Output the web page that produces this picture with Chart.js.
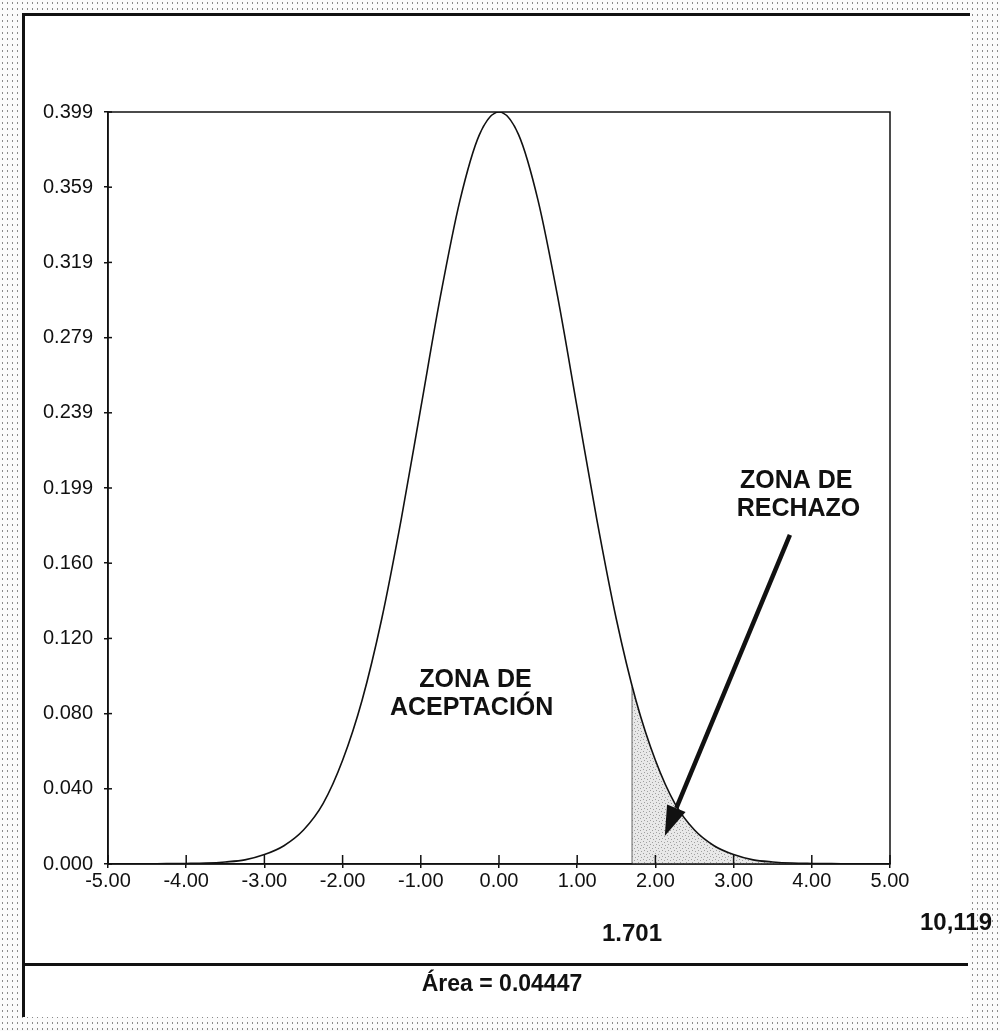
<!DOCTYPE html>
<html>
<head>
<meta charset="utf-8">
<title>Zona de rechazo</title>
<script src="https://cdn.jsdelivr.net/npm/chart.js@4.4.1/dist/chart.umd.min.js"></script>
<style>
  html, body { margin: 0; padding: 0; }
  body {
    width: 1000px; height: 1031px; overflow: hidden; position: relative;
    background-color: #fbfbfb;
    background-image: radial-gradient(circle, #8a8a8a 0.7px, transparent 1.1px);
    background-size: 5px 6px;
  }
  #panel {
    position: absolute; left: 22px; top: 13px; width: 948px; height: 1004px;
    background: #fff; border-left: 3px solid #111; border-top: 3px solid #111;
    box-sizing: border-box;
  }
  #sep {
    position: absolute; left: 22px; top: 963px; width: 946px; height: 3px; background: #111;
  }
  #chart { position: absolute; left: 0; top: 0; }
</style>
</head>
<body>
<div id="panel"></div>
<div id="sep"></div>
<canvas id="chart" width="1000" height="1031"></canvas>
<script>
// curve, every 0.25
const xValues = [-5, -4.75, -4.5, -4.25, -4, -3.75, -3.5, -3.25, -3, -2.75, -2.5, -2.25, -2, -1.75, -1.5, -1.25, -1, -0.75, -0.5, -0.25,
    0, 0.25, 0.5, 0.75, 1, 1.25, 1.5, 1.75, 2, 2.25, 2.5, 2.75, 3, 3.25, 3.5, 3.75, 4, 4.25, 4.5, 4.75, 5];
const densityValues = [0, 0, 0.0001, 0.0002, 0.0003, 0.0005, 0.0011, 0.0022, 0.005, 0.0097, 0.018, 0.032, 0.055, 0.087, 0.130, 0.183, 0.242, 0.301, 0.352, 0.387,
    0.399, 0.387, 0.352, 0.301, 0.242, 0.183, 0.130, 0.087, 0.055, 0.032, 0.018, 0.0097, 0.005, 0.0022, 0.0011, 0.0005, 0.0003, 0.0002, 0.0001, 0, 0];

// rejection tail from t = 1.701
const shadeX = [1.701, 1.75, 2, 2.25, 2.5, 2.75, 3, 3.25, 3.5, 3.75, 4, 4.25, 4.5, 4.75, 5];
const shadeY = [0.094, 0.087, 0.055, 0.032, 0.018, 0.0097, 0.005, 0.0022, 0.0011, 0.0005, 0.0003, 0.0002, 0.0001, 0, 0];
const criticalValue = 1.701;

const yTickValues = [0, 0.0399, 0.0798, 0.1197, 0.1596, 0.1995, 0.2394, 0.2793, 0.3192, 0.3591, 0.399];
const yTickLabels = ['0.000', '0.040', '0.080', '0.120', '0.160', '0.199', '0.239', '0.279', '0.319', '0.359', '0.399'];
const xTickValues = [-5, -4, -3, -2, -1, 0, 1, 2, 3, 4, 5];
const xTickLabels = ['-5.00', '-4.00', '-3.00', '-2.00', '-1.00', '0.00', '1.00', '2.00', '3.00', '4.00', '5.00'];

// dotted grey texture for the shaded area
const makeStipple = () => {
    const c = document.createElement('canvas');
    c.width = 6; c.height = 6;
    const g = c.getContext('2d');
    g.fillStyle = '#e8e8e8';
    g.fillRect(0, 0, 6, 6);
    g.fillStyle = '#a0a0a0';
    [[1, 1], [4, 2], [2, 4], [5, 5]].forEach(([px, py]) => g.fillRect(px, py, 1, 1));
    return g.createPattern(c, 'repeat');
};

// frame, ticks crossing the axes, labels and arrow
const decorations = {
    id: 'decorations',
    afterDraw(chart) {
        const { ctx, chartArea: a, scales: { x, y } } = chart;
        ctx.save();
        ctx.strokeStyle = '#111';
        ctx.lineWidth = 1.5;
        ctx.strokeRect(a.left, a.top, a.right - a.left, a.bottom - a.top);

        xTickValues.forEach(v => {
            const px = x.getPixelForValue(v);
            ctx.beginPath(); ctx.moveTo(px, a.bottom - 9); ctx.lineTo(px, a.bottom); ctx.stroke();
        });
        yTickValues.forEach(v => {
            const py = y.getPixelForValue(v);
            ctx.beginPath(); ctx.moveTo(a.left, py); ctx.lineTo(a.left + 4, py); ctx.stroke();
        });

        // arrow into the rejection zone
        const x0 = x.getPixelForValue(3.72), y0 = y.getPixelForValue(0.1746);
        const x1 = x.getPixelForValue(2.12), y1 = y.getPixelForValue(0.0149);
        const ang = Math.atan2(y1 - y0, x1 - x0);
        const headLen = 30, headW = 10;
        const bx = x1 - headLen * Math.cos(ang), by = y1 - headLen * Math.sin(ang);
        ctx.lineWidth = 4.5;
        ctx.beginPath(); ctx.moveTo(x0, y0); ctx.lineTo(bx, by); ctx.stroke();
        ctx.fillStyle = '#111';
        ctx.beginPath();
        ctx.moveTo(x1, y1);
        ctx.lineTo(bx + headW * Math.sin(ang), by - headW * Math.cos(ang));
        ctx.lineTo(bx - headW * Math.sin(ang), by + headW * Math.cos(ang));
        ctx.closePath(); ctx.fill();

        ctx.textAlign = 'center';
        ctx.textBaseline = 'middle';
        ctx.font = 'bold 25px "Liberation Sans", Arial, sans-serif';
        ctx.fillText('ZONA DE', x.getPixelForValue(3.80), y.getPixelForValue(0.2032));
        ctx.fillText('RECHAZO', x.getPixelForValue(3.83), y.getPixelForValue(0.1884));
        ctx.fillText('ZONA DE', x.getPixelForValue(-0.30), y.getPixelForValue(0.0976));
        ctx.fillText('ACEPTACIÓN', x.getPixelForValue(-0.35), y.getPixelForValue(0.0828));

        // labels under the axis
        ctx.font = 'bold 24px "Liberation Sans", Arial, sans-serif';
        ctx.fillText('1.701', 632, 934);
        ctx.fillText('10,119', 956, 923);
        ctx.font = 'bold 23px "Liberation Sans", Arial, sans-serif';
        ctx.fillText('Área = 0.04447', 502, 985);
        ctx.restore();
    }
};

const ctx = document.getElementById('chart').getContext('2d');

new Chart(ctx, {
    type: 'line',
    data: {
        datasets: [{
            data: xValues.map((v, i) => ({ x: v, y: densityValues[i] })),
            borderColor: '#111',
            borderWidth: 1.6,
            pointRadius: 0,
            cubicInterpolationMode: 'monotone',
            fill: false
        }, {
            data: [{ x: criticalValue, y: 0 }, { x: criticalValue, y: shadeY[0] }],
            borderColor: '#666',
            borderWidth: 1,
            pointRadius: 0,
            fill: false
        }, {
            data: shadeX.map((v, i) => ({ x: v, y: shadeY[i] })),
            borderWidth: 0,
            borderColor: 'rgba(0,0,0,0)',
            backgroundColor: makeStipple(),
            pointRadius: 0,
            cubicInterpolationMode: 'monotone',
            fill: 'origin'
        }]
    },
    options: {
        responsive: false,
        animation: false,
        devicePixelRatio: 1,
        layout: { padding: { left: 0, top: 112, right: 110, bottom: 137 } },
        plugins: { legend: { display: false }, tooltip: { enabled: false } },
        scales: {
            x: {
                type: 'linear',
                min: -5,
                max: 5,
                afterFit: s => { s.height = 30; },
                afterBuildTicks: s => { s.ticks = xTickValues.map(v => ({ value: v })); },
                grid: { drawOnChartArea: false, color: '#111', lineWidth: 1.5, tickLength: 4 },
                border: { color: '#111', width: 1.5 },
                ticks: {
                    color: '#111',
                    padding: 1,
                    maxRotation: 0,
                    font: { family: '"Liberation Sans", Arial, sans-serif', size: 20 },
                    callback: (v, i) => xTickLabels[i]
                }
            },
            y: {
                min: 0,
                max: 0.399,
                afterFit: s => { s.width = 108; },
                afterBuildTicks: s => { s.ticks = yTickValues.map(v => ({ value: v })); },
                grid: { drawOnChartArea: false, color: '#111', lineWidth: 1.5, tickLength: 4 },
                border: { color: '#111', width: 1.5 },
                ticks: {
                    color: '#111',
                    padding: 11,
                    font: { family: '"Liberation Sans", Arial, sans-serif', size: 20 },
                    callback: (v, i) => yTickLabels[i]
                }
            }
        }
    },
    plugins: [decorations]
});
</script>
</body>
</html>
